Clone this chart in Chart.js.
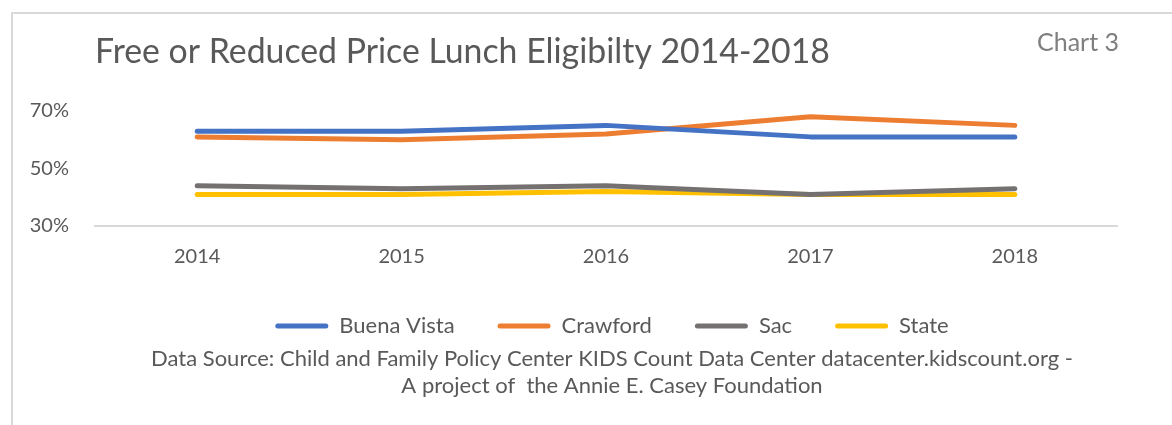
<!DOCTYPE html>
<html>
<head>
<meta charset="utf-8">
<script src="https://cdn.jsdelivr.net/npm/chart.js@4"></script>
<style>
  html, body { margin: 0; padding: 0; background: #fff; overflow: hidden; }
  #frame { position: absolute; left: 11px; top: 12px; width: 1200px; height: 450px; border: 2px solid #d9d9d9; }
  #wrap { position: absolute; left: 0; top: 0; width: 1224px; height: 425px; }
</style>
</head>
<body>
<div id="frame"></div>
<div id="wrap"><canvas id="myChart"></canvas></div>
<script>
// data
const years = ['2014', '2015', '2016', '2017', '2018'];
const buenaVista = [63, 63, 65, 61, 61];
const crawford = [61, 60, 62, 68, 65];
const sac = [44, 43, 44, 41, 43];
const state = [41, 41, 42, 41, 41];
const yTicks = [30, 50, 70];

const titleText = 'Free or Reduced Price Lunch Eligibilty 2014-2018';
const cornerText = 'Chart 3';
const sourceLines = [
  'Data Source: Child and Family Policy Center KIDS Count Data Center datacenter.kidscount.org -',
  'A project of  the Annie E. Casey Foundation'
];

Chart.defaults.font.family = 'Lato';
Chart.defaults.color = '#595959';

// title + "Chart 3" drawn at fixed spots (title plugin can't sit left of the y axis)
const headerText = {
  id: 'headerText',
  afterDraw(chart) {
    const c = chart.ctx;
    c.save();
    c.textBaseline = 'alphabetic';
    c.font = '35px Lato';
    const size = 35 * 735 / c.measureText(titleText).width;
    c.font = size.toFixed(1) + 'px Lato';
    c.fillStyle = '#595959';
    c.fillText(titleText, 95, 63);
    c.font = '25px Lato';
    c.fillStyle = '#7f7f7f';
    c.fillText(cornerText, 1037, 51);
    c.restore();
  }
};

function line(label, data, color) {
  return {
    label,
    data,
    borderColor: color,
    backgroundColor: color,
    borderWidth: 5,
    borderCapStyle: 'round',
    borderJoinStyle: 'round',
    pointRadius: 0,
    pointHoverRadius: 0,
    tension: 0
  };
}

const ctx = document.getElementById('myChart');

new Chart(ctx, {
  type: 'line',
  data: {
    labels: years,
    datasets: [
      line('Buena Vista', buenaVista, '#4472C4'),
      line('Crawford', crawford, '#ED7D31'),
      line('Sac', sac, '#767171'),
      line('State', state, '#FFC000')
    ]
  },
  plugins: [headerText],
  options: {
    responsive: true,
    maintainAspectRatio: false,
    animation: false,
    layout: { padding: { top: 111, left: 0, right: 0, bottom: 26 } },
    scales: {
      x: {
        offset: true,
        grid: { display: false, drawTicks: false },
        border: { display: true, color: '#d9d9d9', width: 2 },
        ticks: { padding: 19, font: { size: 20 }, color: '#595959' },
        afterFit: s => { s.height = 46; }
      },
      y: {
        min: 30,
        max: 70,
        afterBuildTicks: s => { s.ticks = yTicks.map(v => ({ value: v })); },
        grid: { display: false, drawTicks: false },
        border: { display: false },
        ticks: { padding: 26, font: { size: 20 }, color: '#595959', callback: v => v + '%' },
        afterFit: s => { s.width = 95; }
      },
      // empty right axis only to keep the plot right edge in place
      yRight: {
        position: 'right',
        grid: { display: false, drawTicks: false },
        border: { display: false },
        ticks: { display: false },
        afterFit: s => { s.width = 107; }
      }
    },
    plugins: {
      legend: {
        position: 'bottom',
        labels: {
          boxWidth: 53,
          boxHeight: 5,
          padding: 43,
          useBorderRadius: true,
          borderRadius: 2.5,
          font: { size: 22 },
          color: '#595959',
          generateLabels: chart => Chart.defaults.plugins.legend.labels.generateLabels(chart)
            .map(item => Object.assign(item, { fillStyle: item.strokeStyle, lineWidth: 0 }))
        }
      },
      subtitle: {
        display: true,
        position: 'bottom',
        text: sourceLines,
        color: '#595959',
        font: { size: 22, lineHeight: 1.227 },
        padding: { top: -2, bottom: 0 }
      },
      tooltip: { enabled: false }
    }
  }
});
</script>
</body>
</html>
